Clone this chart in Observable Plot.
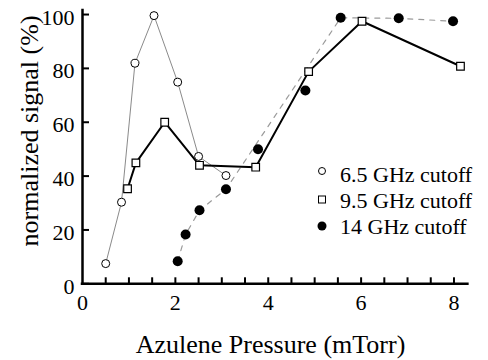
<!DOCTYPE html>
<html><head><meta charset="utf-8">
<script src="https://cdn.jsdelivr.net/npm/d3@7"></script>
<script src="https://cdn.jsdelivr.net/npm/@observablehq/plot@0.6"></script>
<style>
body{margin:0;background:#fff;}
#wrap{position:relative;width:488px;height:360px;overflow:hidden;}
#legend{position:absolute;left:0;top:0;}
</style></head><body><div id="wrap"></div>
<script>
// ---- data ----
const p65x = [0.50, 0.84, 1.13, 1.54, 2.05, 2.50, 3.09];
const p65y = [7.5, 30.3, 81.9, 99.6, 74.9, 47.3, 40.2];
const p95x = [0.97, 1.15, 1.77, 2.52, 3.73, 4.87, 6.02, 8.14];
const p95y = [35.3, 44.9, 60.0, 44.0, 43.3, 78.8, 97.5, 80.8];
const p14x = [2.05, 2.22, 2.52, 3.09, 3.78, 4.80, 5.56, 6.81, 7.98];
const p14y = [8.4, 18.3, 27.3, 35.1, 50.0, 71.8, 98.8, 98.6, 97.5];
const p14onGuide = [true, true, true, true, false, false, true, true, true];
const seriesLabels = ["6.5 GHz cutoff", "9.5 GHz cutoff", "14 GHz cutoff"];
const yTicks = [0, 20, 40, 60, 80, 100];
const xTickLabels = [0, 2, 4, 6, 8];
const xMinorTicks = [0.5, 1, 1.5, 2, 2.5, 3, 3.5, 4, 4.5, 5, 5.5, 6, 6.5, 7, 7.5, 8];
const xTitle = "Azulene Pressure (mTorr)";
const yTitle = "normalized signal (%)";

const d65 = p65x.map((x, i) => ({x, y: p65y[i]}));
const d95 = p95x.map((x, i) => ({x, y: p95y[i]}));
const d14 = p14x.map((x, i) => ({x, y: p14y[i], guide: p14onGuide[i]}));

const FONT = '"Liberation Serif", "Times New Roman", serif';

const chart = Plot.plot({
  width: 488, height: 360,
  marginLeft: 82, marginRight: 20.6, marginTop: 10, marginBottom: 76.7,
  style: {fontFamily: FONT, fontSize: "22px", background: "white", color: "black", overflow: "visible"},
  x: {domain: [0, 8.3], axis: null},
  y: {domain: [0, 101.5], axis: null},
  marks: [
    // series lines
    Plot.line(d14.filter(d => d.guide), {x: "x", y: "y", stroke: "#9a9a9a", strokeWidth: 1.2, strokeDasharray: "5,6"}),
    Plot.line(d65, {x: "x", y: "y", stroke: "#8a8a8a", strokeWidth: 1}),
    Plot.line(d95, {x: "x", y: "y", stroke: "black", strokeWidth: 2}),
    // markers
    Plot.dot(d14, {x: "x", y: "y", r: 5, fill: "black", stroke: "none"}),
    Plot.dot(d65, {x: "x", y: "y", r: 4, fill: "white", stroke: "black", strokeWidth: 1}),
    Plot.dot(d95, {x: "x", y: "y", symbol: "square", r: 4.3, fill: "white", stroke: "black", strokeWidth: 1.2}),
    // axes
    Plot.axisY({ticks: yTicks, tickSize: 7, dx: 7, text: null, strokeWidth: 2, label: null}),
    Plot.axisY({ticks: yTicks, tickSize: 0, tickPadding: 8, fontSize: 22, dy: 3, label: null}),
    Plot.axisX({ticks: xMinorTicks, tickSize: 6, dy: -6, text: null, strokeWidth: 2, label: null}),
    Plot.axisX({ticks: xTickLabels, tickSize: 0, tickPadding: 11, fontSize: 22, label: null}),
    Plot.ruleX([0], {strokeWidth: 2.5, strokeLinecap: "square"}),
    Plot.ruleY([0], {strokeWidth: 2.5, strokeLinecap: "square"}),
    // axis titles
    Plot.text([yTitle], {frameAnchor: "left", text: d => d, rotate: -90, fontSize: 26, dx: -53.3, dy: -16.2, textAnchor: "middle", lineAnchor: "middle"}),
    Plot.text([xTitle], {frameAnchor: "bottom", text: d => d, fontSize: 26, dx: -4.7, dy: 60.5, textAnchor: "middle", lineAnchor: "middle"})
  ]
});
document.getElementById("wrap").appendChild(chart);

// ---- legend ----
const legendX = 322, textX = 340, rowY = [171, 199.5, 226], baseY = [182, 208, 234];
const lg = d3.select("#wrap").append("svg").attr("id", "legend").attr("width", 488).attr("height", 360);
lg.append("circle").attr("cx", legendX).attr("cy", rowY[0]).attr("r", 3.5).attr("fill", "white").attr("stroke", "black").attr("stroke-width", 1);
lg.append("rect").attr("x", legendX - 3.5).attr("y", rowY[1] - 3.5).attr("width", 7).attr("height", 7).attr("fill", "white").attr("stroke", "black").attr("stroke-width", 1);
lg.append("circle").attr("cx", legendX).attr("cy", rowY[2]).attr("r", 4.5).attr("fill", "black");
lg.selectAll("text").data(seriesLabels).join("text")
  .attr("x", textX).attr("y", (d, i) => baseY[i])
  .attr("font-family", FONT).attr("font-size", 22).attr("fill", "black")
  .text(d => d);
</script></body></html>
